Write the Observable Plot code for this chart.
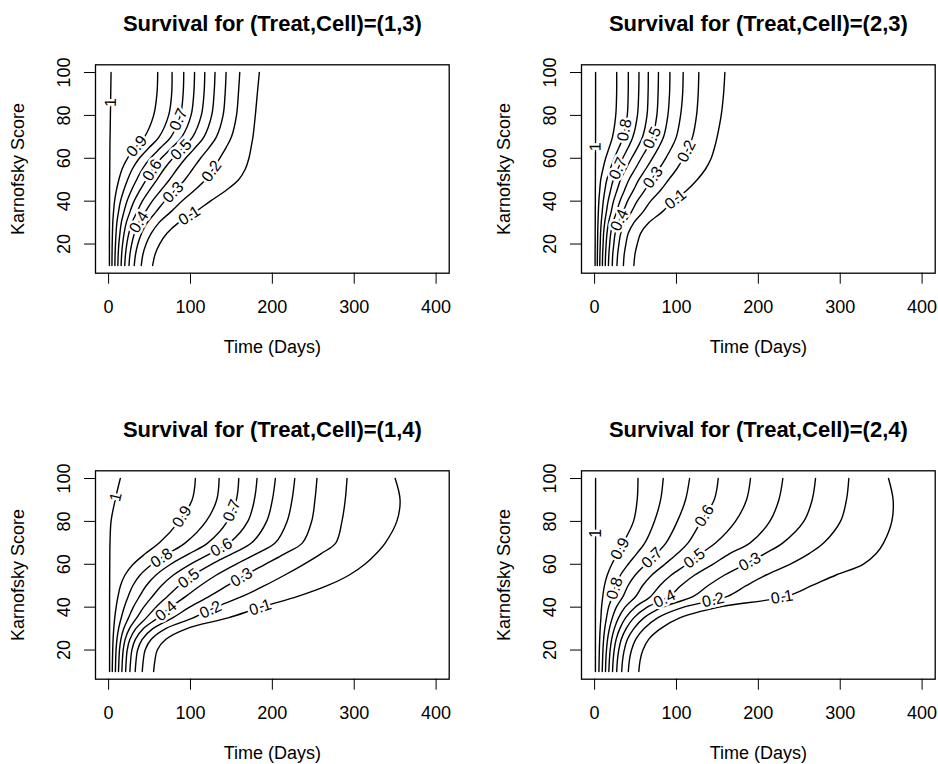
<!DOCTYPE html>
<html><head><meta charset="utf-8">
<script src="https://cdn.jsdelivr.net/npm/d3@7"></script>
<script src="https://cdn.jsdelivr.net/npm/@observablehq/plot@0.6"></script>
<style>
html,body{margin:0;padding:0;background:#fff}
body{width:938px;height:764px;overflow:hidden;position:relative;font-family:"Liberation Sans",Arial,Helvetica,sans-serif}
.panel{position:absolute}
</style></head><body>
<div id="p1" class="panel" style="left:0px;top:0px"></div>
<div id="p2" class="panel" style="left:486px;top:0px"></div>
<div id="p3" class="panel" style="left:0px;top:406px"></div>
<div id="p4" class="panel" style="left:486px;top:406px"></div>
<script>
// contour levels and the Karnofsky values at which each contour's time is read
const levels = [1, 0.9, 0.8, 0.7, 0.6, 0.5, 0.4, 0.3, 0.2, 0.1];
const karnofsky = [10, 15, 20, 25, 30, 35, 40, 45, 50, 55, 60, 65, 70, 80, 90, 100];
const xTicks = [0, 100, 200, 300, 400];
const yTicks = [20, 40, 60, 80, 100];
const titles = ["Survival for (Treat,Cell)=(1,3)", "Survival for (Treat,Cell)=(2,3)",
                "Survival for (Treat,Cell)=(1,4)", "Survival for (Treat,Cell)=(2,4)"];

// time (days) of each contour at each Karnofsky value, one row per level
const cell13 = [
  [1.0, 1.0, 1.0, 1.0, 1.1, 1.1, 1.2, 1.2, 1.3, 1.4, 1.5, 1.6, 1.8, 2.2, 2.6, 3.0],
  [4.1, 4.2, 4.4, 4.7, 5.1, 6.0, 7.3, 9.5, 12.5, 16.5, 23, 33, 44, 55, 59, 60],
  [7.7, 7.9, 8.4, 9.1, 10.1, 12.1, 14.5, 18.4, 23.2, 29.0, 37.5, 49.5, 61.7, 73.3, 77.0, 77.5],
  [11.3, 11.7, 12.5, 13.8, 15.5, 18.7, 22.4, 27.8, 34.2, 41.2, 50.9, 63.7, 76.2, 87.7, 91.0, 91.8],
  [15.3, 15.9, 17.1, 18.9, 21.6, 26.1, 31.1, 38.1, 45.9, 54.0, 64.3, 77.3, 89.5, 100.7, 104.0, 105.0],
  [19.7, 20.6, 22.2, 24.7, 28.5, 34.7, 41.2, 49.8, 59.1, 67.8, 78.4, 91.1, 102.7, 113.2, 116.5, 117.5],
  [24.9, 26.0, 28.2, 31.6, 36.8, 44.9, 53.3, 63.7, 74.3, 83.7, 94.0, 105.9, 116.5, 125.9, 128.8, 130.0],
  [31.3, 32.8, 35.7, 40.3, 47.3, 57.9, 68.5, 81.0, 93.1, 102.7, 112.3, 122.7, 131.7, 139.8, 142.3, 143.5],
  [39.9, 41.8, 45.8, 52.0, 61.6, 75.9, 89.4, 104.6, 118.2, 127.7, 135.7, 143.5, 150.1, 156.2, 158.5, 160.2],
  [53.8, 56.6, 62.3, 71.3, 85.5, 105.9, 124.2, 143.3, 158.8, 167, 171.4, 174, 176.3, 179.2, 181.6, 184.1]
];
const cell23 = [
  [0.6, 0.6, 0.7, 0.7, 0.8, 0.8, 0.9, 0.9, 1.0, 1.0, 1.1, 1.1, 1.2, 1.2, 1.2, 1.2],
  [3.3, 3.4, 3.6, 3.8, 4.1, 4.6, 5.2, 6.2, 7.5, 10.2, 13.5, 17.8, 21.9, 25.8, 26.9, 27],
  [6.3, 6.5, 6.9, 7.3, 8.1, 9.3, 10.6, 12.5, 14.9, 19.1, 23.9, 29.7, 35.0, 39.9, 41.0, 41.2],
  [9.5, 9.8, 10.4, 11.0, 12.3, 14.4, 16.5, 19.5, 22.8, 28.4, 34.3, 41.0, 46.8, 52.3, 53.8, 54.2],
  [13.0, 13.4, 14.1, 15.1, 17.0, 20.2, 23.1, 27.3, 31.7, 38.3, 45.1, 52.4, 58.6, 64.0, 65.3, 65.6],
  [16.9, 17.4, 18.4, 19.7, 22.4, 26.8, 30.9, 36.4, 41.9, 49.5, 56.9, 64.5, 70.8, 76.0, 77.5, 78.0],
  [21.6, 22.1, 23.5, 25.1, 28.9, 34.9, 40.2, 47.3, 54.0, 62.5, 70.5, 78.1, 84.3, 89.5, 91.5, 92.0],
  [27.3, 28.1, 29.7, 31.9, 36.9, 45.0, 52.0, 61.1, 69.3, 78.6, 86.8, 94.1, 99.9, 105.0, 107.5, 108.2],
  [35.2, 36.1, 38.2, 41.1, 48.0, 59.1, 68.4, 80.3, 90.4, 100.3, 108.3, 114.7, 119.7, 124.5, 126.5, 127.3],
  [48.0, 49.2, 52.1, 56.2, 66.3, 82.6, 96.0, 112.3, 125.3, 135.5, 142.4, 146.5, 149.7, 154.6, 157.5, 159.1]
];
const cell14 = [
  [1.2, 1.2, 1.2, 1.2, 1.2, 1.2, 1.2, 1.2, 1.3, 1.3, 1.4, 1.5, 1.7, 3, 8, 14.3],
  [4.5, 4.7, 5.0, 5.5, 6.3, 7.5, 9.2, 11.5, 14.5, 20, 30, 45, 62, 86, 102, 106],
  [8.3, 8.6, 9.1, 10.2, 12.2, 15.4, 19.1, 23.9, 29.5, 38.5, 53.1, 72.9, 93.7, 119, 132, 135],
  [12.1, 12.6, 13.3, 15.0, 18.5, 24.3, 30.2, 37.7, 45.9, 57.9, 75.8, 98.6, 121.3, 145, 156, 159],
  [16.2, 16.8, 17.8, 20.2, 25.4, 34.3, 42.9, 53.4, 64.4, 79.2, 99.6, 124.2, 147.7, 170, 178, 181.3],
  [20.8, 21.5, 22.7, 26.0, 33.2, 46.0, 57.8, 71.8, 85.9, 103.3, 125.6, 151.1, 174.7, 193, 200, 203.7],
  [26.0, 26.9, 28.4, 32.7, 42.5, 60.1, 75.8, 94.3, 111.8, 131.7, 155.4, 180.9, 203.6, 218, 224, 227.4],
  [32.5, 33.5, 35.4, 41.0, 54.0, 78.2, 98.9, 122.9, 144.8, 167.1, 191.2, 215.4, 236.8, 248, 252, 254.5],
  [41.1, 42.3, 44.6, 52.1, 69.8, 103.4, 131.3, 163.1, 190.4, 215.2, 238.4, 259.7, 277.6, 285, 289, 291.2],
  [55, 56.5, 59.5, 70, 95.7, 146, 186, 231, 267, 294, 313, 327, 338, 352, 356, 350]
];
const cell24 = [
  [1.0, 1.0, 1.0, 1.0, 1.0, 1.0, 1.0, 1.1, 1.1, 1.1, 1.1, 1.2, 1.2, 1.2, 1.2, 1.2],
  [5.3, 5.5, 5.8, 6.2, 6.8, 7.7, 8.5, 10, 12, 15.5, 21, 28, 35, 47.5, 52, 53],
  [9.3, 9.7, 10.2, 11.0, 12.4, 14.5, 17.1, 21.5, 25.5, 31.7, 41.0, 51.5, 61.4, 73, 80.6, 83.8],
  [13.3, 13.7, 14.5, 15.8, 18.1, 21.6, 26.6, 34.8, 40.8, 49.7, 62.3, 75.5, 87.3, 101, 111, 116],
  [17.4, 18.0, 19.0, 20.8, 24.1, 29.2, 37.2, 50.2, 58.5, 70.0, 85.8, 101.1, 114.2, 130, 146, 151],
  [21.9, 22.6, 23.9, 26.3, 30.8, 37.8, 49.5, 68.6, 79.5, 93.7, 112.6, 129.6, 148, 172, 185.5, 190.4],
  [27.0, 27.8, 29.5, 32.6, 38.5, 47.8, 64.2, 91.3, 105.2, 122.3, 144.4, 165, 190, 214, 225, 229.9],
  [33.1, 34.1, 36.2, 40.1, 47.9, 60.2, 82.9, 120.6, 138.3, 158.8, 184.1, 208, 230, 255.5, 265.7, 269.8],
  [41.2, 42.4, 45.1, 50.2, 60.5, 76.9, 108.8, 162.3, 185.1, 209.5, 238.5, 262, 280, 300.3, 307.6, 310.5],
  [54, 55.5, 59, 66, 80.6, 104, 152, 234, 265, 295, 328, 344, 353, 363, 364.6, 359]
];

// contour label positions [level, time, karnofsky]
const labels13 = [[1, 2.9, 86], [0.9, 34.6, 65.6], [0.7, 86.3, 77.9], [0.6, 59.9, 52.9], [0.5, 95.7, 61.4],
                  [0.4, 32.6, 31.3], [0.3, 81.4, 43.2], [0.2, 129.5, 52.9], [0.1, 99, 33.1]];
const labels23 = [[1, 0.4, 65.4], [0.8, 37.8, 73.1], [0.7, 27.7, 55.4], [0.5, 72.4, 69.2], [0.4, 28.5, 31.5],
                  [0.3, 72.4, 50.8], [0.2, 113.1, 63.1], [0.1, 98.9, 40.8]];
const labels14 = [[1, 10.2, 91.3], [0.9, 89.6, 82.2], [0.8, 67.2, 61.4], [0.7, 150.7, 85.1], [0.6, 140.5, 66],
                  [0.5, 101.8, 51.4], [0.4, 63.1, 41.5], [0.3, 164.9, 52.2], [0.2, 122.2, 40.7], [0.1, 185.3, 39.9]];
const labels24 = [[1, 1.2, 74.4], [0.9, 29.7, 67.5], [0.8, 21.6, 49.1], [0.7, 70.4, 62.9], [0.6, 133.5, 82.8],
                  [0.5, 123.3, 62.1], [0.4, 80.6, 47.6], [0.3, 192.5, 59.1], [0.2, 143.6, 45.3], [0.1, 229, 44.2]];

const FONT = '"Liberation Sans", Arial, Helvetica, sans-serif';
const WIDTH = 452, HEIGHT = 360, ML = 95, MR = 3.3, MT = 64.3, MB = HEIGHT - 272.7;
const xDomain = [-16, 416], yDomain = [6.4, 103.6];
const sx = d3.scaleLinear(xDomain, [0, WIDTH - ML - MR]);
const sy = d3.scaleLinear(yDomain, [HEIGHT - MT - MB, 0]);

function snap(xs, lx, ly) {
  const P = xs.map((x, j) => [sx(x), sy(karnofsky[j])]);
  const qx = sx(lx), qy = sy(ly);
  let best = null;
  for (let j = 0; j < P.length - 1; j++) {
    const [ax, ay] = P[j], [bx, by] = P[j + 1];
    const dx = bx - ax, dy = by - ay, L2 = dx * dx + dy * dy || 1e-9;
    let t = ((qx - ax) * dx + (qy - ay) * dy) / L2;
    t = Math.max(0, Math.min(1, t));
    const px = ax + t * dx, py = ay + t * dy;
    const d = (px - qx) ** 2 + (py - qy) ** 2;
    if (!best || d < best.d) best = {d, px, py, ang: Math.atan2(dy, dx) * 180 / Math.PI};
  }
  let a = best.ang;
  while (a >= 90) a -= 180;
  while (a < -90) a += 180;
  return {x: sx.invert(best.px), y: sy.invert(best.py), rotate: a};
}

function panel(id, title, lines, labs) {
  const data = [];
  lines.forEach((xs, i) => xs.forEach((x, j) => data.push({level: levels[i], time: x, k: karnofsky[j]})));
  const labelData = labs.map(([lev, lx, ly]) => {
    const s = snap(lines[levels.indexOf(lev)], lx, ly);
    return {text: lev === 1 ? "1" : lev.toFixed(1), ...s};
  });
  const plot = Plot.plot({
    width: WIDTH, height: HEIGHT,
    marginLeft: ML, marginRight: MR, marginTop: MT, marginBottom: MB,
    x: {domain: xDomain, axis: null},
    y: {domain: yDomain, axis: null},
    style: {fontFamily: FONT, fontSize: "18px", background: "transparent", color: "#000", overflow: "visible"},
    marks: [
      Plot.line(data, {x: "time", y: "k", z: "level", curve: "catmull-rom", stroke: "#000", strokeWidth: 1.4}),
      Plot.text(labelData, {x: "x", y: "y", text: "text", rotate: "rotate", fontSize: 16, fill: "#000",
                            stroke: "#fff", strokeWidth: 5, paintOrder: "stroke"}),
      Plot.frame({stroke: "#000", strokeWidth: 1.3}),
      Plot.axisX(xTicks, {tickSize: 11, tickPadding: 16, label: null, fontSize: 18}),
      Plot.axisY(yTicks, {tickSize: 11, tickRotate: -90, tickPadding: 15, lineAnchor: "bottom",
                          textAnchor: "middle", label: null, fontSize: 18}),
      Plot.text([title], {frameAnchor: "top", dy: -40.5, lineAnchor: "middle", fontSize: 22, fontWeight: "bold"}),
      Plot.text(["Time (Days)"], {frameAnchor: "bottom", dy: 74.5, lineAnchor: "middle", fontSize: 18}),
      Plot.text(["Karnofsky Score"], {frameAnchor: "left", dx: -77, rotate: -90, textAnchor: "middle",
                                      lineAnchor: "middle", fontSize: 18})
    ]
  });
  document.getElementById(id).appendChild(plot);
}

panel("p1", titles[0], cell13, labels13);
panel("p2", titles[1], cell23, labels23);
panel("p3", titles[2], cell14, labels14);
panel("p4", titles[3], cell24, labels24);
</script>
</body></html>
